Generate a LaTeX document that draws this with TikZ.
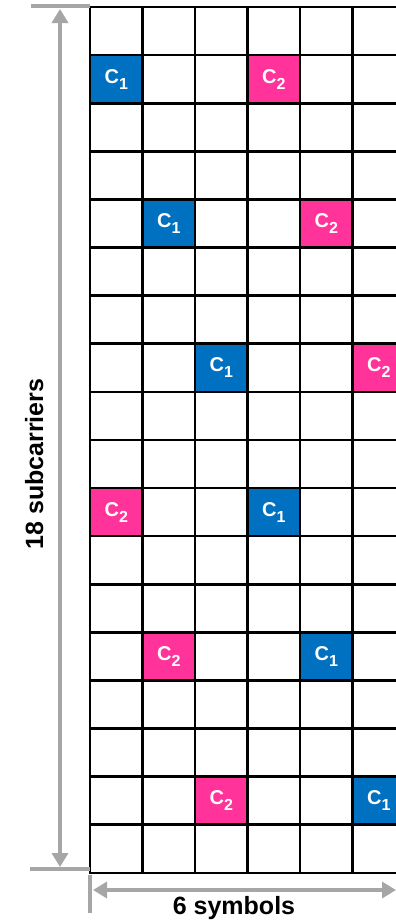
\documentclass[tikz,border=0pt]{standalone}
\usepackage{fontspec}
\setmainfont{Liberation Sans}
\usetikzlibrary{arrows.meta,positioning,calc}
\definecolor{cblue}{HTML}{0070C0}
\definecolor{cpink}{HTML}{FF3399}
\definecolor{dimline}{HTML}{A6A6A6}
\newcommand{\cw}{52.5}
\newcommand{\ch}{48.1}
\newcommand{\usr}[1]{C\raisebox{-6pt}{\fontsize{16}{16}\selectfont #1}}

\tikzset{
  cell/.style={minimum width=52.5pt,minimum height=48.1pt,inner sep=0pt,
    text=white,font=\bfseries\fontsize{20}{20}\selectfont},
  gridline/.style={line width=2.6pt,black,line cap=rect},
  dimarrow/.style={line width=4pt,dimline,{Triangle[length=14pt,width=16pt]}-{Triangle[length=14pt,width=16pt]}},
  dimtick/.style={line width=4pt,dimline},
  dimlabel/.style={font=\bfseries\fontsize{25}{25}\selectfont,inner sep=0pt}
}

\begin{document}
\begin{tikzpicture}[x=1pt,y=-1pt]
  \useasboundingbox (0,0) rectangle (396,924);

  % coloured cells: row/column/user/name
  \foreach \r/\c/\k/\n in {1/0/1/ua,4/1/1/ub,7/2/1/uc,10/3/1/ud,13/4/1/ue,16/5/1/uf,
                           1/3/2/va,4/4/2/vb,7/5/2/vc,10/0/2/vd,13/1/2/ve,16/2/2/vf}{
    \ifnum\k=1 \def\cfill{cblue}\else\def\cfill{cpink}\fi
    \node[cell,fill=\cfill] (\n) at ({90+\cw*(\c+0.5)},{7+\ch*(\r+0.5)}) {\usr{\k}};
  }

  % grid
  \foreach \i in {0,...,6}
    \draw[gridline] ({90+\cw*\i},7) -- ({90+\cw*\i},873);
  \foreach \j in {0,...,18}
    \draw[gridline] (90,{7+\ch*\j}) -- (405,{7+\ch*\j});

  % dimensions
  \coordinate (vtop) at (60,9);
  \coordinate (vbot) at (60,867);
  \coordinate (hleft) at (93,890);
  \coordinate (hright) at (396,890);
  \draw[dimtick] (31,6) -- (90,6);
  \draw[dimtick] (30,869) -- (90,869);
  \draw[dimtick] (90,875) -- (90,913);
  \draw[dimarrow] (vbot) -- (vtop);
  \draw[dimarrow] (hleft) -- (hright);

  \node[dimlabel,rotate=90,anchor=base] (subc) at (43,464) {18 subcarriers};
  \node[dimlabel,anchor=base] (symb) at (234,914) {6 symbols};
\end{tikzpicture}
\end{document}
